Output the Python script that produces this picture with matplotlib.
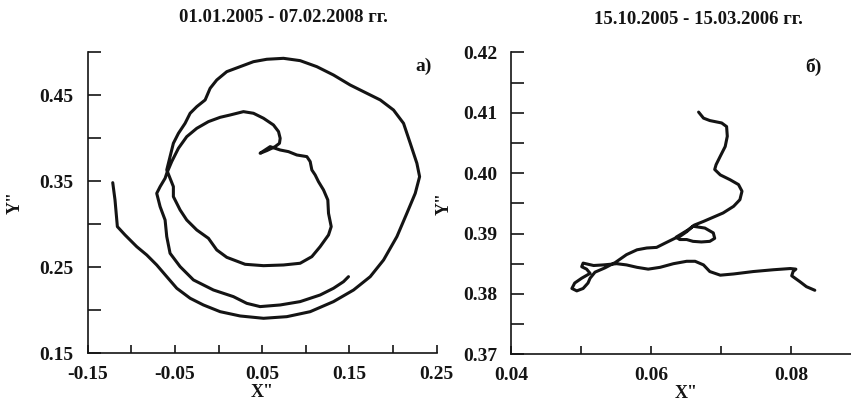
import matplotlib
matplotlib.use("Agg")
import matplotlib.pyplot as plt
from matplotlib.ticker import FixedLocator, NullFormatter

plt.rcParams['font.family'] = ['Liberation Serif', 'DejaVu Serif']
plt.rcParams['font.weight'] = 'bold'

# ---- data: panel a) 01.01.2005 - 07.02.2008 ----
xa = [-0.1213, -0.1187, -0.1160, -0.1072, -0.0938, -0.0823, -0.0709, -0.0594, -0.0479, -0.0326,
      -0.0174, 0.0018, 0.0247, 0.0515, 0.0782, 0.1050, 0.1317, 0.1547, 0.1738, 0.1891,
      0.2044, 0.2158, 0.2254, 0.2304, 0.2273, 0.2197, 0.2120, 0.2005, 0.1853, 0.1700,
      0.1508, 0.1317, 0.1126, 0.0935, 0.0744, 0.0553, 0.0400, 0.0247, 0.0094, -0.0021,
      -0.0097, -0.0154, -0.0250, -0.0326, -0.0384, -0.0460, -0.0518, -0.0556, -0.0594,
      -0.0556, -0.0518, -0.0518, -0.0441, -0.0365, -0.0250, -0.0116, -0.0021, 0.0094, 0.0304,
      0.0515, 0.0744, 0.0935, 0.1069, 0.1164, 0.1260, 0.1291, 0.1260, 0.1252, 0.1203,
      0.1145, 0.1107, 0.1069, 0.1050, 0.1012, 0.0897, 0.0801, 0.0706, 0.0591, 0.0476,
      0.0553, 0.0648, 0.0698, 0.0706, 0.0687, 0.0629, 0.0515, 0.0400, 0.0285, 0.0132,
      0.0018, -0.0116, -0.0250, -0.0365, -0.0460, -0.0537, -0.0594,
      -0.0613, -0.0670, -0.0709, -0.0670, -0.0613, -0.0594, -0.0556, -0.0441, -0.0288, -0.0059,
      0.0170, 0.0323, 0.0476, 0.0706, 0.0935, 0.1164, 0.1317, 0.1432, 0.1489]
ya = [0.3484, 0.3283, 0.2973, 0.2876, 0.2740, 0.2643, 0.2527, 0.2391, 0.2256, 0.2140,
      0.2062, 0.1984, 0.1934, 0.1907, 0.1926, 0.1984, 0.2101, 0.2236, 0.2391, 0.2585,
      0.2857, 0.3128, 0.3360, 0.3554, 0.3709, 0.3942, 0.4174, 0.4329, 0.4446, 0.4523,
      0.4620, 0.4736, 0.4833, 0.4903, 0.4930, 0.4919, 0.4891, 0.4833, 0.4775, 0.4678,
      0.4581, 0.4446, 0.4368, 0.4291, 0.4174, 0.4058, 0.3942, 0.3787, 0.3632,
      0.3535, 0.3438, 0.3322, 0.3167, 0.3050, 0.2934, 0.2837, 0.2702, 0.2616, 0.2535,
      0.2519, 0.2527, 0.2547, 0.2624, 0.2740, 0.2876, 0.2973, 0.3128, 0.3283, 0.3399,
      0.3496, 0.3574, 0.3632, 0.3729, 0.3787, 0.3806, 0.3845, 0.3864, 0.3903, 0.3826,
      0.3857, 0.3903, 0.3942, 0.4000, 0.4078, 0.4155, 0.4233, 0.4291, 0.4310, 0.4271,
      0.4244, 0.4194, 0.4116, 0.4019, 0.3884, 0.3729, 0.3593,
      0.3535, 0.3438, 0.3360, 0.3205, 0.3050, 0.2857, 0.2663, 0.2508, 0.2353, 0.2236,
      0.2159, 0.2081, 0.2043, 0.2062, 0.2101, 0.2178, 0.2256, 0.2333, 0.2391]

# ---- data: panel б) 15.10.2005 - 15.03.2006 ----
xb = [0.0834, 0.0822, 0.0813, 0.0801, 0.0803, 0.0807, 0.0799, 0.0775, 0.0746, 0.0718,
      0.0699, 0.0684, 0.0675, 0.0663, 0.0651, 0.0632, 0.0613, 0.0596, 0.0580, 0.0565,
      0.0551, 0.0532, 0.0518, 0.0503, 0.0501, 0.0508, 0.0513, 0.0501, 0.0491, 0.0487,
      0.0494, 0.0503, 0.0510, 0.0513, 0.0520, 0.0534, 0.0549, 0.0565, 0.0580, 0.0594,
      0.0608, 0.0620, 0.0634, 0.0641, 0.0651, 0.0660, 0.0677, 0.0689, 0.0691, 0.0684,
      0.0672, 0.0660, 0.0651, 0.0641, 0.0636, 0.0653, 0.0662, 0.0675, 0.0689, 0.0703,
      0.0718, 0.0727, 0.0730, 0.0725, 0.0713, 0.0699, 0.0691, 0.0693, 0.0699, 0.0706,
      0.0709, 0.0708, 0.0701, 0.0684, 0.0675, 0.0668]
yb = [0.3806, 0.3812, 0.3820, 0.3830, 0.3837, 0.3841, 0.3842, 0.3840, 0.3837, 0.3833,
      0.3831, 0.3837, 0.3848, 0.3854, 0.3854, 0.3850, 0.3844, 0.3841, 0.3844, 0.3848,
      0.3850, 0.3848, 0.3847, 0.3851, 0.3845, 0.3841, 0.3834, 0.3826, 0.3818, 0.3809,
      0.3805, 0.3809, 0.3818, 0.3826, 0.3836, 0.3843, 0.3852, 0.3865, 0.3873, 0.3876,
      0.3877, 0.3884, 0.3892, 0.3895, 0.3903, 0.3912, 0.3909, 0.3901, 0.3892, 0.3887,
      0.3886, 0.3887, 0.3890, 0.3890, 0.3894, 0.3906, 0.3914, 0.3920, 0.3927, 0.3934,
      0.3945, 0.3956, 0.3970, 0.3981, 0.3989, 0.3997, 0.4006, 0.4014, 0.4028, 0.4044,
      0.4061, 0.4077, 0.4083, 0.4087, 0.4091, 0.4101]

title_a = "01.01.2005 - 07.02.2008 гг."
title_b = "15.10.2005 - 15.03.2006 гг."
xt_a = [-0.15, -0.05, 0.05, 0.15, 0.25]
xt_a_minor = [-0.10, 0.0, 0.10, 0.20]
yt_a = [0.15, 0.25, 0.35, 0.45]
yt_a_minor = [0.20, 0.30, 0.40, 0.50]
xt_b = [0.04, 0.06, 0.08]
xt_b_minor = [0.05, 0.07, 0.09]
yt_b = [0.37, 0.38, 0.39, 0.40, 0.41, 0.42]
yt_b_minor = [0.375, 0.385, 0.395, 0.405, 0.415]

W, H = 851, 403
fig = plt.figure(figsize=(W / 100, H / 100), dpi=100)

col = '#141414'

def style(ax, xt, xtm, yt, ytm, xfmt, yfmt):
    for s in ['top', 'right']:
        ax.spines[s].set_visible(False)
    for s in ['left', 'bottom']:
        ax.spines[s].set_linewidth(1.2)
        ax.spines[s].set_color(col)
    ax.xaxis.set_major_locator(FixedLocator(xt))
    ax.xaxis.set_minor_locator(FixedLocator(xtm))
    ax.yaxis.set_major_locator(FixedLocator(yt))
    ax.yaxis.set_minor_locator(FixedLocator(ytm))
    ax.set_xticklabels([xfmt.format(v) for v in xt])
    ax.set_yticklabels([yfmt.format(v) for v in yt])
    ax.yaxis.set_minor_formatter(NullFormatter())
    ax.xaxis.set_minor_formatter(NullFormatter())
    ax.tick_params(axis='x', which='both', direction='in', length=6, width=1.2,
                   color=col, pad=9, labelsize=14)
    ax.tick_params(axis='y', which='both', direction='in', length=9.5, width=1.2,
                   color=col, pad=10, labelsize=14)
    for lab in ax.get_xticklabels() + ax.get_yticklabels():
        lab.set_fontweight('bold')
        lab.set_color(col)

# Panel a
ax1 = fig.add_axes([87.7 / W, (H - 353.3) / H, 349 / W, 301 / H])
ax1.plot(xa, ya, color=col, lw=2.2, solid_joinstyle='round', solid_capstyle='round')
ax1.set_xlim(-0.15, 0.25)
ax1.set_ylim(0.15, 0.50)
style(ax1, xt_a, xt_a_minor, yt_a, yt_a_minor, "{:.2f}", "{:.2f}")
ax1.set_xlabel('X"', fontsize=13, fontweight='bold', labelpad=1, color=col)
ax1.set_ylabel('Y"', fontsize=13, fontweight='bold', color=col)
ax1.yaxis.set_label_coords(-64 / 349, 0.5)
ax1.text(424 / W, 1 - 66 / H, "а)", transform=fig.transFigure, ha='center', va='center',
         fontsize=14, fontweight='bold', color=col)

# Panel b
ax2 = fig.add_axes([511 / W, (H - 354.3) / H, 350 / W, 302 / H])
ax2.plot(xb, yb, color=col, lw=2.2, solid_joinstyle='round', solid_capstyle='round')
ax2.set_xlim(0.04, 0.09)
ax2.set_ylim(0.37, 0.42)
style(ax2, xt_b, xt_b_minor, yt_b, yt_b_minor, "{:.2f}", "{:.2f}")
ax2.set_xlabel('X"', fontsize=13, fontweight='bold', labelpad=1, color=col)
ax2.set_ylabel('Y"', fontsize=13, fontweight='bold', color=col)
ax2.yaxis.set_label_coords(-58 / 350, 0.5)
ax2.text(813 / W, 1 - 67 / H, "б)", transform=fig.transFigure, ha='center', va='center',
         fontsize=14, fontweight='bold', color=col)

fig.text(283 / W, 1 - 18 / H, title_a, ha='center', va='center', fontsize=13.5,
         fontweight='bold', color=col)
fig.text(698 / W, 1 - 20 / H, title_b, ha='center', va='center', fontsize=13.5,
         fontweight='bold', color=col)

fig.savefig("out.png", dpi=100)
